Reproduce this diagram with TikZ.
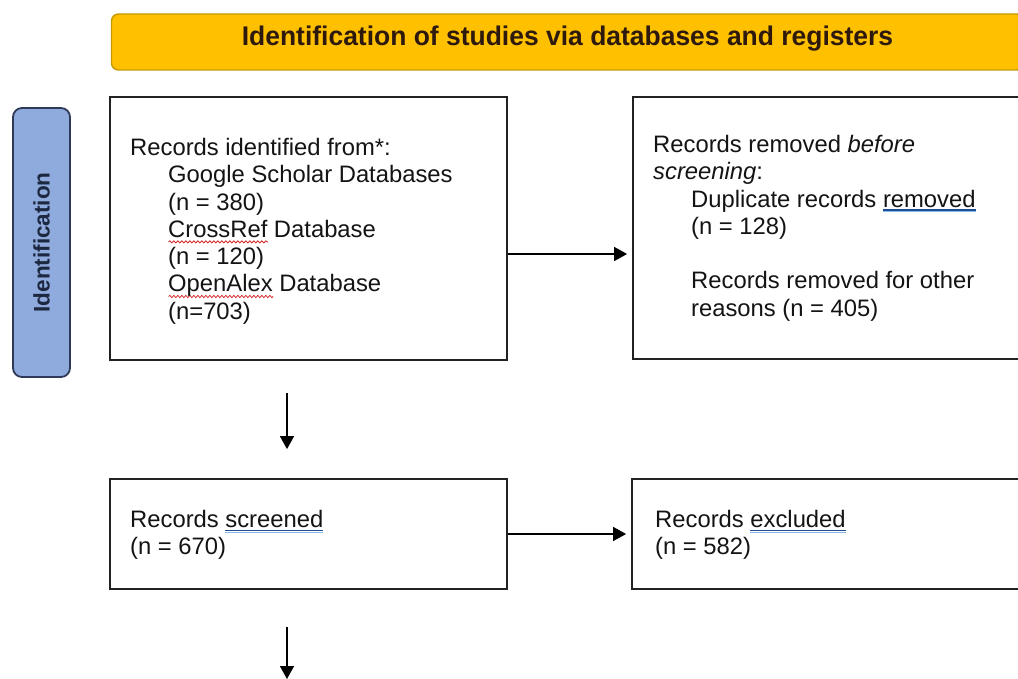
\documentclass[tikz,border=0pt]{standalone}
\usepackage{fontspec}
\setmainfont{Liberation Sans}
\newfontfamily\headfont[FakeStretch=0.98]{Liberation Sans}
\usetikzlibrary{arrows.meta,decorations.pathmorphing}

\definecolor{bannerfill}{HTML}{FFC000}
\definecolor{bannerline}{HTML}{C49A00}
\definecolor{bannertext}{HTML}{2E1A0C}
\definecolor{phasefill}{HTML}{8FAADC}
\definecolor{phaseline}{HTML}{2E3A57}
\definecolor{phasetext}{HTML}{1C2740}
\definecolor{boxline}{HTML}{222222}
\definecolor{grammardark}{HTML}{1F4E96}
\definecolor{grammarlight}{HTML}{86B8E8}
\definecolor{spellred}{HTML}{D42A2A}

% proofing marks of the word processor: grammar (double blue) and spelling (red squiggle)
\newsavebox\proofbox
\newlength\proofwd
\newcommand\grammarmark[1]{\sbox\proofbox{#1}\setlength\proofwd{\wd\proofbox}%
  \rlap{\color{grammardark}\rule[-3.6pt]{\proofwd}{1.3pt}}%
  \rlap{\color{grammarlight}\rule[-5.4pt]{\proofwd}{1.1pt}}\usebox\proofbox}
\newcommand\spellmark[1]{\sbox\proofbox{#1}\setlength\proofwd{\wd\proofbox}%
  \rlap{\tikz[baseline=0pt]\draw[spellred,line width=0.8pt,decorate,
    decoration={snake,amplitude=1.1pt,segment length=4pt}] (0pt,-4.5pt) -- (\proofwd,-4.5pt);}%
  \usebox\proofbox}
\newcommand\ind{\hspace*{38pt}}
\newcommand\rows[1]{\begin{tabular}[t]{@{}l@{}}#1\end{tabular}}

\begin{document}
\begin{tikzpicture}[x=1pt,y=-1pt,
  banner/.style={draw=bannerline, line width=1.4pt, fill=bannerfill, rounded corners=7pt,
    minimum width=912pt, minimum height=56pt, inner sep=0pt},
  headtext/.style={anchor=base, inner sep=0pt, text=bannertext,
    font=\headfont\bfseries\fontsize{27}{30}\selectfont},
  phase/.style={draw=phaseline, line width=1.8pt, fill=phasefill, rounded corners=9pt,
    rotate=90, minimum width=269pt, minimum height=57pt, inner sep=0pt, text=phasetext,
    font=\bfseries\fontsize{22.5}{27}\selectfont},
  record/.style={draw=boxline, line width=1.8pt, fill=white, inner sep=0pt},
  entry/.style={anchor=base west, inner sep=0pt, text=black!92,
    font=\fontsize{23.8}{27.3}\selectfont},
  flow/.style={draw=black, line width=1.5pt, -{Triangle[length=13pt,width=14pt]}},
]
\useasboundingbox (0,0) rectangle (1018,679);
\fill[white] (0,0) rectangle (1018,679);

% header band and phase label
\node[banner] (head) at (567.5,42) {};
\node[headtext] (headlabel) at (567.5,45.5) {Identification of studies via databases and registers};
\node[phase] (phase) at (41.5,242.5) {Identification};

% record boxes
\node[record, minimum width=397pt, minimum height=263pt] (found) at (308.5,228.5) {};
\node[record, minimum width=397pt, minimum height=262pt] (removed) at (831.5,228) {};
\node[record, minimum width=397pt, minimum height=110pt] (screened) at (308.5,534) {};
\node[record, minimum width=398pt, minimum height=110pt] (excluded) at (831,534) {};

% box texts
\node[entry] (foundtext) at (130,155.5) {\rows{%
  Records identified from*:\\
  \ind Google Scholar Databases\\
  \ind (n = 380)\\
  \ind \spellmark{CrossRef} Database\\
  \ind (n = 120)\\
  \ind \spellmark{OpenAlex} Database\\
  \ind (n=703)}};
\node[entry] (removedtext) at (653,152.5) {\rows{%
  Records removed \textit{before}\\
  \textit{screening}:\\
  \ind Duplicate records \grammarmark{removed}\\
  \ind (n = 128)\\[27.3pt]
  \ind Records removed for other\\
  \ind reasons (n = 405)}};
\node[entry] (screenedtext) at (130,527.5) {\rows{%
  Records \grammarmark{screened}\\
  (n = 670)}};
\node[entry] (excludedtext) at (655,527.5) {\rows{%
  Records \grammarmark{excluded}\\
  (n = 582)}};

% connectors
\coordinate (next) at (287,679);
\draw[flow, shorten >=5pt] ([yshift=-25.5pt]found.east) -- ([yshift=-25.5pt]found.east -| removed.west);
\draw[flow, shorten <=32pt, shorten >=29pt] ([xshift=-21.5pt]found.south) -- ([xshift=-21.5pt]screened.north);
\draw[flow, shorten >=5pt] (screened.east) -- (excluded.west);
\draw[flow, shorten <=37pt] ([xshift=-21.5pt]screened.south) -- (next);
\end{tikzpicture}
\end{document}
